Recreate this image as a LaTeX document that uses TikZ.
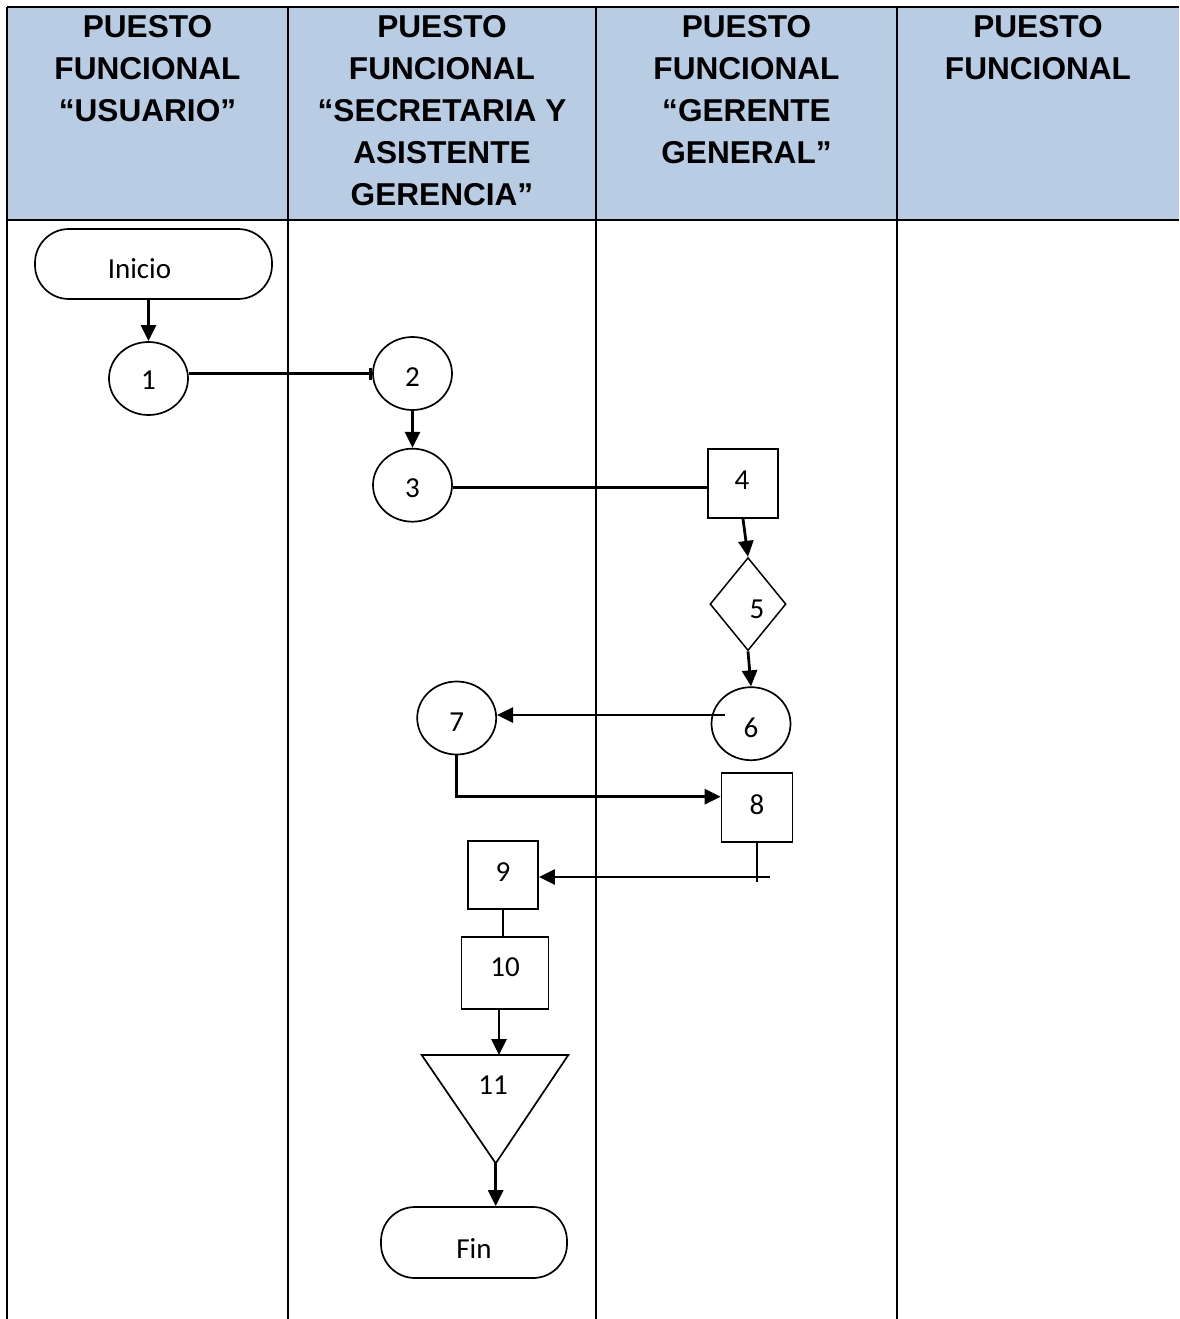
\documentclass[tikz,border=0pt]{standalone}
\usepackage{fontspec}
\setmainfont{Carlito}
\newfontfamily\headfont{Liberation Sans}
\usetikzlibrary{arrows.meta,positioning,shapes.geometric}
\definecolor{headblue}{HTML}{B8CCE4}
% text moved inside its node: right by #1, up by #2
\newcommand{\movetext}[3]{\raisebox{#2}[\height][\depth]{\hspace*{#1}#3\hspace*{-#1}}}

\begin{document}
\begin{tikzpicture}[
    x=1pt, y=-1pt,
    lane/.style={line width=2.8pt},
    head/.style={anchor=north, inner sep=0pt, align=center,
                 font=\headfont\bfseries\fontsize{31.6}{42}\selectfont},
    term/.style={draw, rounded corners=34pt, line width=1.7pt, fill=white,
                 minimum height=70pt, font=\fontsize{29}{34}\selectfont},
    circ/.style={draw, ellipse, line width=1.7pt, fill=white, inner sep=0pt,
                 minimum width=79pt, minimum height=73pt, font=\fontsize{29}{34}\selectfont},
    box/.style={draw, rectangle, line width=1.7pt, fill=white, inner sep=0pt,
                minimum width=70pt, minimum height=69pt, font=\fontsize{29}{34}\selectfont},
    decision/.style={draw, diamond, line width=1.5pt, fill=white, inner sep=0pt,
                     minimum width=76pt, minimum height=93pt, font=\fontsize{29}{34}\selectfont},
    lab/.style={inner sep=0pt, font=\fontsize{29}{34}\selectfont},
    arrow/.style={-{Triangle[length=16pt, width=15pt]}, line width=2.8pt},
    link/.style={line width=2.8pt}
  ]
    \useasboundingbox (0,0) rectangle (1179,1319);
    % lanes
    \fill[headblue] (7,7) rectangle (1179,220);
    \draw[lane] (7,7) -- (1179,7);
    \draw[lane] (7,220) -- (1179,220);
    \foreach \x in {7,288,596,897}
      \draw[lane] (\x,7) -- (\x,1319);
    \node[head] (h1) at (147.5,15) {PUESTO\\FUNCIONAL\\“USUARIO”};
    \node[head] (h2) at (442,15) {PUESTO\\FUNCIONAL\\“SECRETARIA Y\\ASISTENTE\\GERENCIA”};
    \node[head] (h3) at (746.5,15) {PUESTO\\FUNCIONAL\\“GERENTE\\GENERAL”};
    \node[head] (h4) at (1038,15) {PUESTO\\FUNCIONAL};
    % steps
    \node[term, minimum width=237pt] (inicio) at (153.5,264) {\movetext{-14pt}{-5pt}{Inicio}};
    \node[circ] (n1) at (148.5,378.5) {\movetext{0pt}{-1.5pt}{1}};
    \node[circ] (n2) at (412.5,373.5) {\movetext{0pt}{-4pt}{2}};
    \node[circ, below=37pt of n2] (n3) {\movetext{0pt}{-3pt}{3}};
    \node[box] (n4) at (743,483.5) {\movetext{-1pt}{3.5pt}{4}};
    \node[decision, below=38pt of n4, xshift=5pt] (n5) {\movetext{9pt}{-5.5pt}{5}};
    \node[circ, below=35pt of n5, xshift=3pt] (n6) {\movetext{0pt}{-3.8pt}{6}};
    \node[circ] (n7) at (456.7,718) {\movetext{0pt}{-3.7pt}{7}};
    \node[box, minimum width=71pt] (n8) at (757,807.7) {\movetext{0pt}{3.4pt}{8}};
    \node[box, minimum height=68pt] (n9) at (503,875) {\movetext{0pt}{2.7pt}{9}};
    \node[box, minimum width=87pt, minimum height=72pt, below=26pt of n9, xshift=2pt] (n10) {\movetext{0pt}{5.7pt}{10}};
    \coordinate (t11l) at (421.7,1055);
    \coordinate (t11r) at (568.3,1055);
    \coordinate (t11tip) at (495.7,1163.3);
    \coordinate (t11top) at (499,1055);
    \draw[line width=1.7pt] (t11l) -- (t11r) -- (t11tip) -- cycle;
    \node[lab] (n11) at (493,1085) {11};
    \node[term, minimum width=186pt, minimum height=71pt] (fin) at (474,1242.5) {\movetext{0pt}{-6pt}{Fin}};
    % connectors
    \draw[-{Bar[width=12pt]}, link] (n2.west -| n1.east) -- (n2.west);
    \draw[link] ([yshift=-2.5pt]n3.east) -- ([yshift=-2.5pt]n3.east -| n4.west);
    \draw[arrow] ([xshift=14pt, yshift=3pt]n6.west |- n7.east) -- ([yshift=3pt]n7.east);
    \draw[arrow] (n7.south) |- ([yshift=11pt]n8.west);
    \draw[line width=1.7pt] (n8.south) -- ++(0,39);
    \coordinate (c8) at (770,877);
    \draw[arrow] (c8) -- (c8 -| n9.east);
    \draw[arrow] (inicio.south -| n1) -- (n1.north);
    \draw[arrow] (n2.south) -- (n3.north);
    \draw[arrow] (n4.south) -- (n5.north);
    \draw[arrow] (n5.south) -- (n6.north);
    \draw[line width=2pt] (n9.south) -- (n9.south |- n10.north);
    \draw[arrow] (n10.south -| t11top) -- (t11top);
    \draw[arrow] (t11tip) -- (t11tip |- fin.north);
  \end{tikzpicture}
\end{document}
